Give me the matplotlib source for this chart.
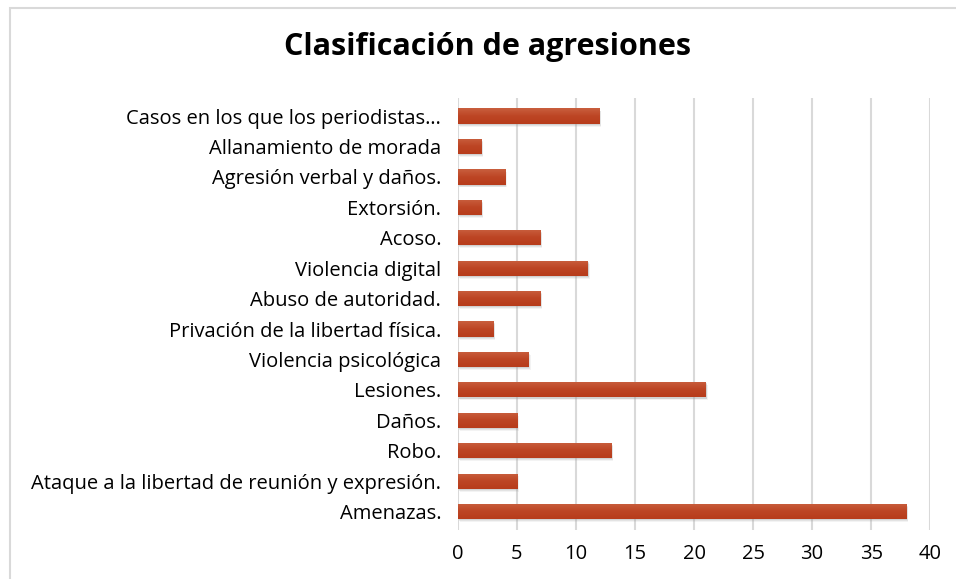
import numpy as np
import matplotlib.pyplot as plt
from matplotlib.patches import Rectangle
from matplotlib.colors import LinearSegmentedColormap

categorias = [
    "Amenazas.",
    "Ataque a la libertad de reunión y expresión.",
    "Robo.",
    "Daños.",
    "Lesiones.",
    "Violencia psicológica",
    "Privación de la libertad física.",
    "Abuso de autoridad.",
    "Violencia digital",
    "Acoso.",
    "Extorsión.",
    "Agresión verbal y daños.",
    "Allanamiento de morada",
    "Casos en los que los periodistas…",
]
valores = [38, 5, 13, 5, 21, 6, 3, 7, 11, 7, 2, 4, 2, 12]
ticks_x = [0, 5, 10, 15, 20, 25, 30, 35, 40]

plt.rcParams['font.family'] = ['Open Sans', 'DejaVu Sans']

fig = plt.figure(figsize=(9.56, 5.79), dpi=100)
ax = fig.add_axes([0.479, 0.085, 0.494, 0.746])

y = np.arange(len(categorias))
alto = 0.5

# sombra suave
for k, a in [(0.16, 0.12), (0.11, 0.18), (0.06, 0.25)]:
    ax.barh(y - k * 0.6, valores, height=alto, left=k, color='#9e9e9e',
            alpha=a, zorder=2, linewidth=0)

barras = ax.barh(y, valores, height=alto, color='#bd4321', zorder=3, linewidth=0)

# degradado vertical en cada barra
cmap = LinearSegmentedColormap.from_list('rojo', ['#b73c1b', '#bd4524', '#c95f3e'])
grad = np.linspace(0, 1, 64).reshape(-1, 1)
for b in barras:
    x0, y0 = b.get_x(), b.get_y()
    w, h = b.get_width(), b.get_height()
    im = ax.imshow(grad, cmap=cmap, aspect='auto', origin='lower',
                   extent=[x0, x0 + w, y0, y0 + h], zorder=4)
    im.set_clip_path(b)

ax.set_xlim(0, 40)
ax.set_ylim(-0.6, len(categorias) - 0.4)
ax.set_xticks(ticks_x)
ax.set_yticks(y)
ax.set_yticklabels(categorias)
ax.tick_params(axis='both', length=0, labelsize=14.5, colors='#000000')
ax.tick_params(axis='x', pad=10)
ax.tick_params(axis='y', pad=12)
ax.grid(axis='x', color='#d9d9d9', linewidth=1.5, zorder=0)
ax.set_axisbelow(True)
for s in ax.spines.values():
    s.set_visible(False)

fig.text(0.51, 0.918, "Clasificación de agresiones", ha='center', va='center',
         fontsize=22, fontweight='bold')

fig.patches.append(Rectangle((10 / 956, -0.1), 1.2, 1 - 8 / 579 + 0.1,
                             transform=fig.transFigure, fill=False,
                             edgecolor='#d9d9d9', linewidth=1.5))

fig.savefig('out.png', dpi=100)
